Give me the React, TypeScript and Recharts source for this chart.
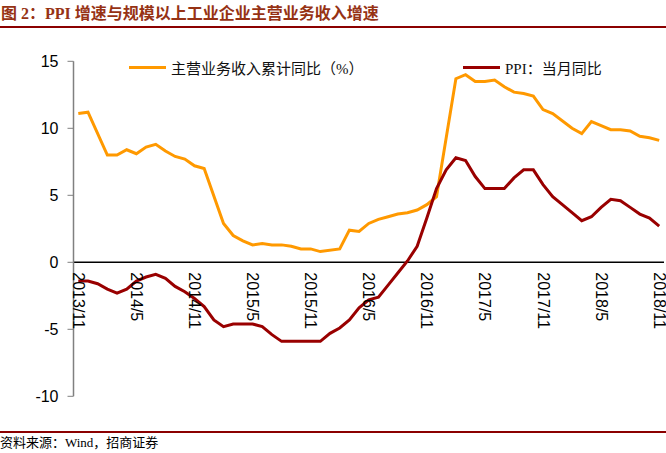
import React from 'react';
import { LineChart, Line, XAxis, YAxis, ReferenceLine } from 'recharts';

const months = [
  '2013/11', '2013/12',
  '2014/1', '2014/2', '2014/3', '2014/4', '2014/5', '2014/6', '2014/7', '2014/8', '2014/9', '2014/10', '2014/11', '2014/12',
  '2015/1', '2015/2', '2015/3', '2015/4', '2015/5', '2015/6', '2015/7', '2015/8', '2015/9', '2015/10', '2015/11', '2015/12',
  '2016/1', '2016/2', '2016/3', '2016/4', '2016/5', '2016/6', '2016/7', '2016/8', '2016/9', '2016/10', '2016/11', '2016/12',
  '2017/1', '2017/2', '2017/3', '2017/4', '2017/5', '2017/6', '2017/7', '2017/8', '2017/9', '2017/10', '2017/11', '2017/12',
  '2018/1', '2018/2', '2018/3', '2018/4', '2018/5', '2018/6', '2018/7', '2018/8', '2018/9', '2018/10', '2018/11',
];

// 主营业务收入累计同比（%），January not published (null)
const revenueGrowth: (number | null)[] = [
  11.1, 11.2,
  null, 8.0, 8.0, 8.4, 8.1, 8.6, 8.8, 8.3, 7.9, 7.7, 7.2, 7.0,
  null, 2.9, 2.0, 1.6, 1.3, 1.4, 1.3, 1.3, 1.2, 1.0, 1.0, 0.8,
  null, 1.0, 2.4, 2.3, 2.9, 3.2, 3.4, 3.6, 3.7, 3.9, 4.3, 4.9,
  null, 13.7, 14.0, 13.5, 13.5, 13.6, 13.1, 12.7, 12.6, 12.4, 11.4, 11.1,
  null, 10.0, 9.6, 10.5, 10.2, 9.9, 9.9, 9.8, 9.4, 9.3, 9.1,
];

// PPI：当月同比
const ppiYoY: number[] = [
  -1.4, -1.4,
  -1.6, -2.0, -2.3, -2.0, -1.4, -1.1, -0.9, -1.2, -1.8, -2.2, -2.7, -3.3,
  -4.3, -4.8, -4.6, -4.6, -4.6, -4.8, -5.4, -5.9, -5.9, -5.9, -5.9, -5.9,
  -5.3, -4.9, -4.3, -3.4, -2.8, -2.6, -1.7, -0.8, 0.1, 1.2, 3.3, 5.5,
  6.9, 7.8, 7.6, 6.4, 5.5, 5.5, 5.5, 6.3, 6.9, 6.9, 5.8, 4.9,
  4.3, 3.7, 3.1, 3.4, 4.1, 4.7, 4.6, 4.1, 3.6, 3.3, 2.7,
];

const yTicks = [-10, -5, 0, 5, 10, 15];

const seriesRevenue = { key: 'revenue', name: '主营业务收入累计同比（%）', color: '#FF9900' };
const seriesPpi = { key: 'ppi', name: 'PPI：当月同比', color: '#990000' };

const W = 666;
const H = 453;
const TOP = 61.3;
const PLOT_H = 335;
const Y_AXIS_W = 73.5;
const RIGHT = 2;
const X_AXIS_H = 1;
const Y_MIN = yTicks[0];
const Y_MAX = yTicks[yTicks.length - 1];
const zeroY = TOP + (PLOT_H * (Y_MAX - 0)) / (Y_MAX - Y_MIN);

const data = months.map((m, i) => ({
  month: m,
  revenue: revenueGrowth[i],
  ppi: ppiYoY[i],
}));

const AXIS_FONT = '"Liberation Sans", Arial, sans-serif';
const CJK_FONT = '"Liberation Serif", "Noto Sans CJK SC", serif';

const XTick = (props: any) => {
  const { x, payload } = props;
  return (
    <text
      transform={`translate(${x},${zeroY + 10}) rotate(90)`}
      textAnchor="start"
      dominantBaseline="central"
      fontSize={16}
      fontFamily={AXIS_FONT}
      fill="#000"
    >
      {payload.value}
    </text>
  );
};

const LegendItem = ({ left, color, label }: { left: number; color: string; label: string }) => (
  <div style={{ position: 'absolute', left, top: 57, height: 20, display: 'flex', alignItems: 'center' }}>
    <div style={{ width: 37, height: 3, background: color, marginRight: 5 }} />
    <span style={{ fontFamily: CJK_FONT, fontSize: 15, color: '#111', whiteSpace: 'nowrap' }}>{label}</span>
  </div>
);

export default function App() {
  return (
    <div style={{ position: 'relative', width: W, height: H, background: '#fff', overflow: 'hidden' }}>
      <style>{`body{margin:0;}`}</style>
      <div
        style={{
          position: 'absolute', left: 1, top: 4, fontFamily: CJK_FONT, fontWeight: 'bold',
          fontSize: 16, color: '#963214', whiteSpace: 'nowrap', lineHeight: '20px',
        }}
      >
        图 2：PPI 增速与规模以上工业企业主营业务收入增速
      </div>
      <div style={{ position: 'absolute', left: 0, top: 26, width: W, height: 2, background: '#8B0000' }} />

      <LineChart
        width={W}
        height={H}
        data={data}
        margin={{ top: TOP, right: RIGHT, bottom: H - TOP - PLOT_H - X_AXIS_H, left: 0 }}
      >
        <XAxis
          dataKey="month"
          interval={5}
          height={X_AXIS_H}
          axisLine={false}
          tickLine={false}
          padding={{ left: 4.8, right: 4.8 }}
          tick={<XTick />}
        />
        <YAxis
          width={Y_AXIS_W}
          domain={[Y_MIN, Y_MAX]}
          ticks={yTicks}
          allowDataOverflow
          axisLine={{ stroke: '#808080', strokeWidth: 1.5 }}
          tickLine={{ stroke: '#808080' }}
          tickSize={6}
          tickMargin={9}
          tick={{ fontSize: 16, fill: '#000', fontFamily: AXIS_FONT }}
        />
        <ReferenceLine y={0} stroke="#000" strokeWidth={1.5} />
        <Line
          type="linear"
          dataKey={seriesRevenue.key}
          name={seriesRevenue.name}
          stroke={seriesRevenue.color}
          strokeWidth={3}
          dot={false}
          connectNulls
          isAnimationActive={false}
        />
        <Line
          type="linear"
          dataKey={seriesPpi.key}
          name={seriesPpi.name}
          stroke={seriesPpi.color}
          strokeWidth={3}
          dot={false}
          isAnimationActive={false}
        />
      </LineChart>

      <LegendItem left={129} color={seriesRevenue.color} label={seriesRevenue.name} />
      <LegendItem left={463} color={seriesPpi.color} label={seriesPpi.name} />

      <div style={{ position: 'absolute', left: 0, top: 431, width: W, height: 2, background: '#8B0000' }} />
      <div
        style={{
          position: 'absolute', left: 0, top: 434, fontFamily: CJK_FONT, fontSize: 13,
          color: '#000', whiteSpace: 'nowrap', lineHeight: '18px',
        }}
      >
        资料来源：Wind，招商证券
      </div>
    </div>
  );
}
